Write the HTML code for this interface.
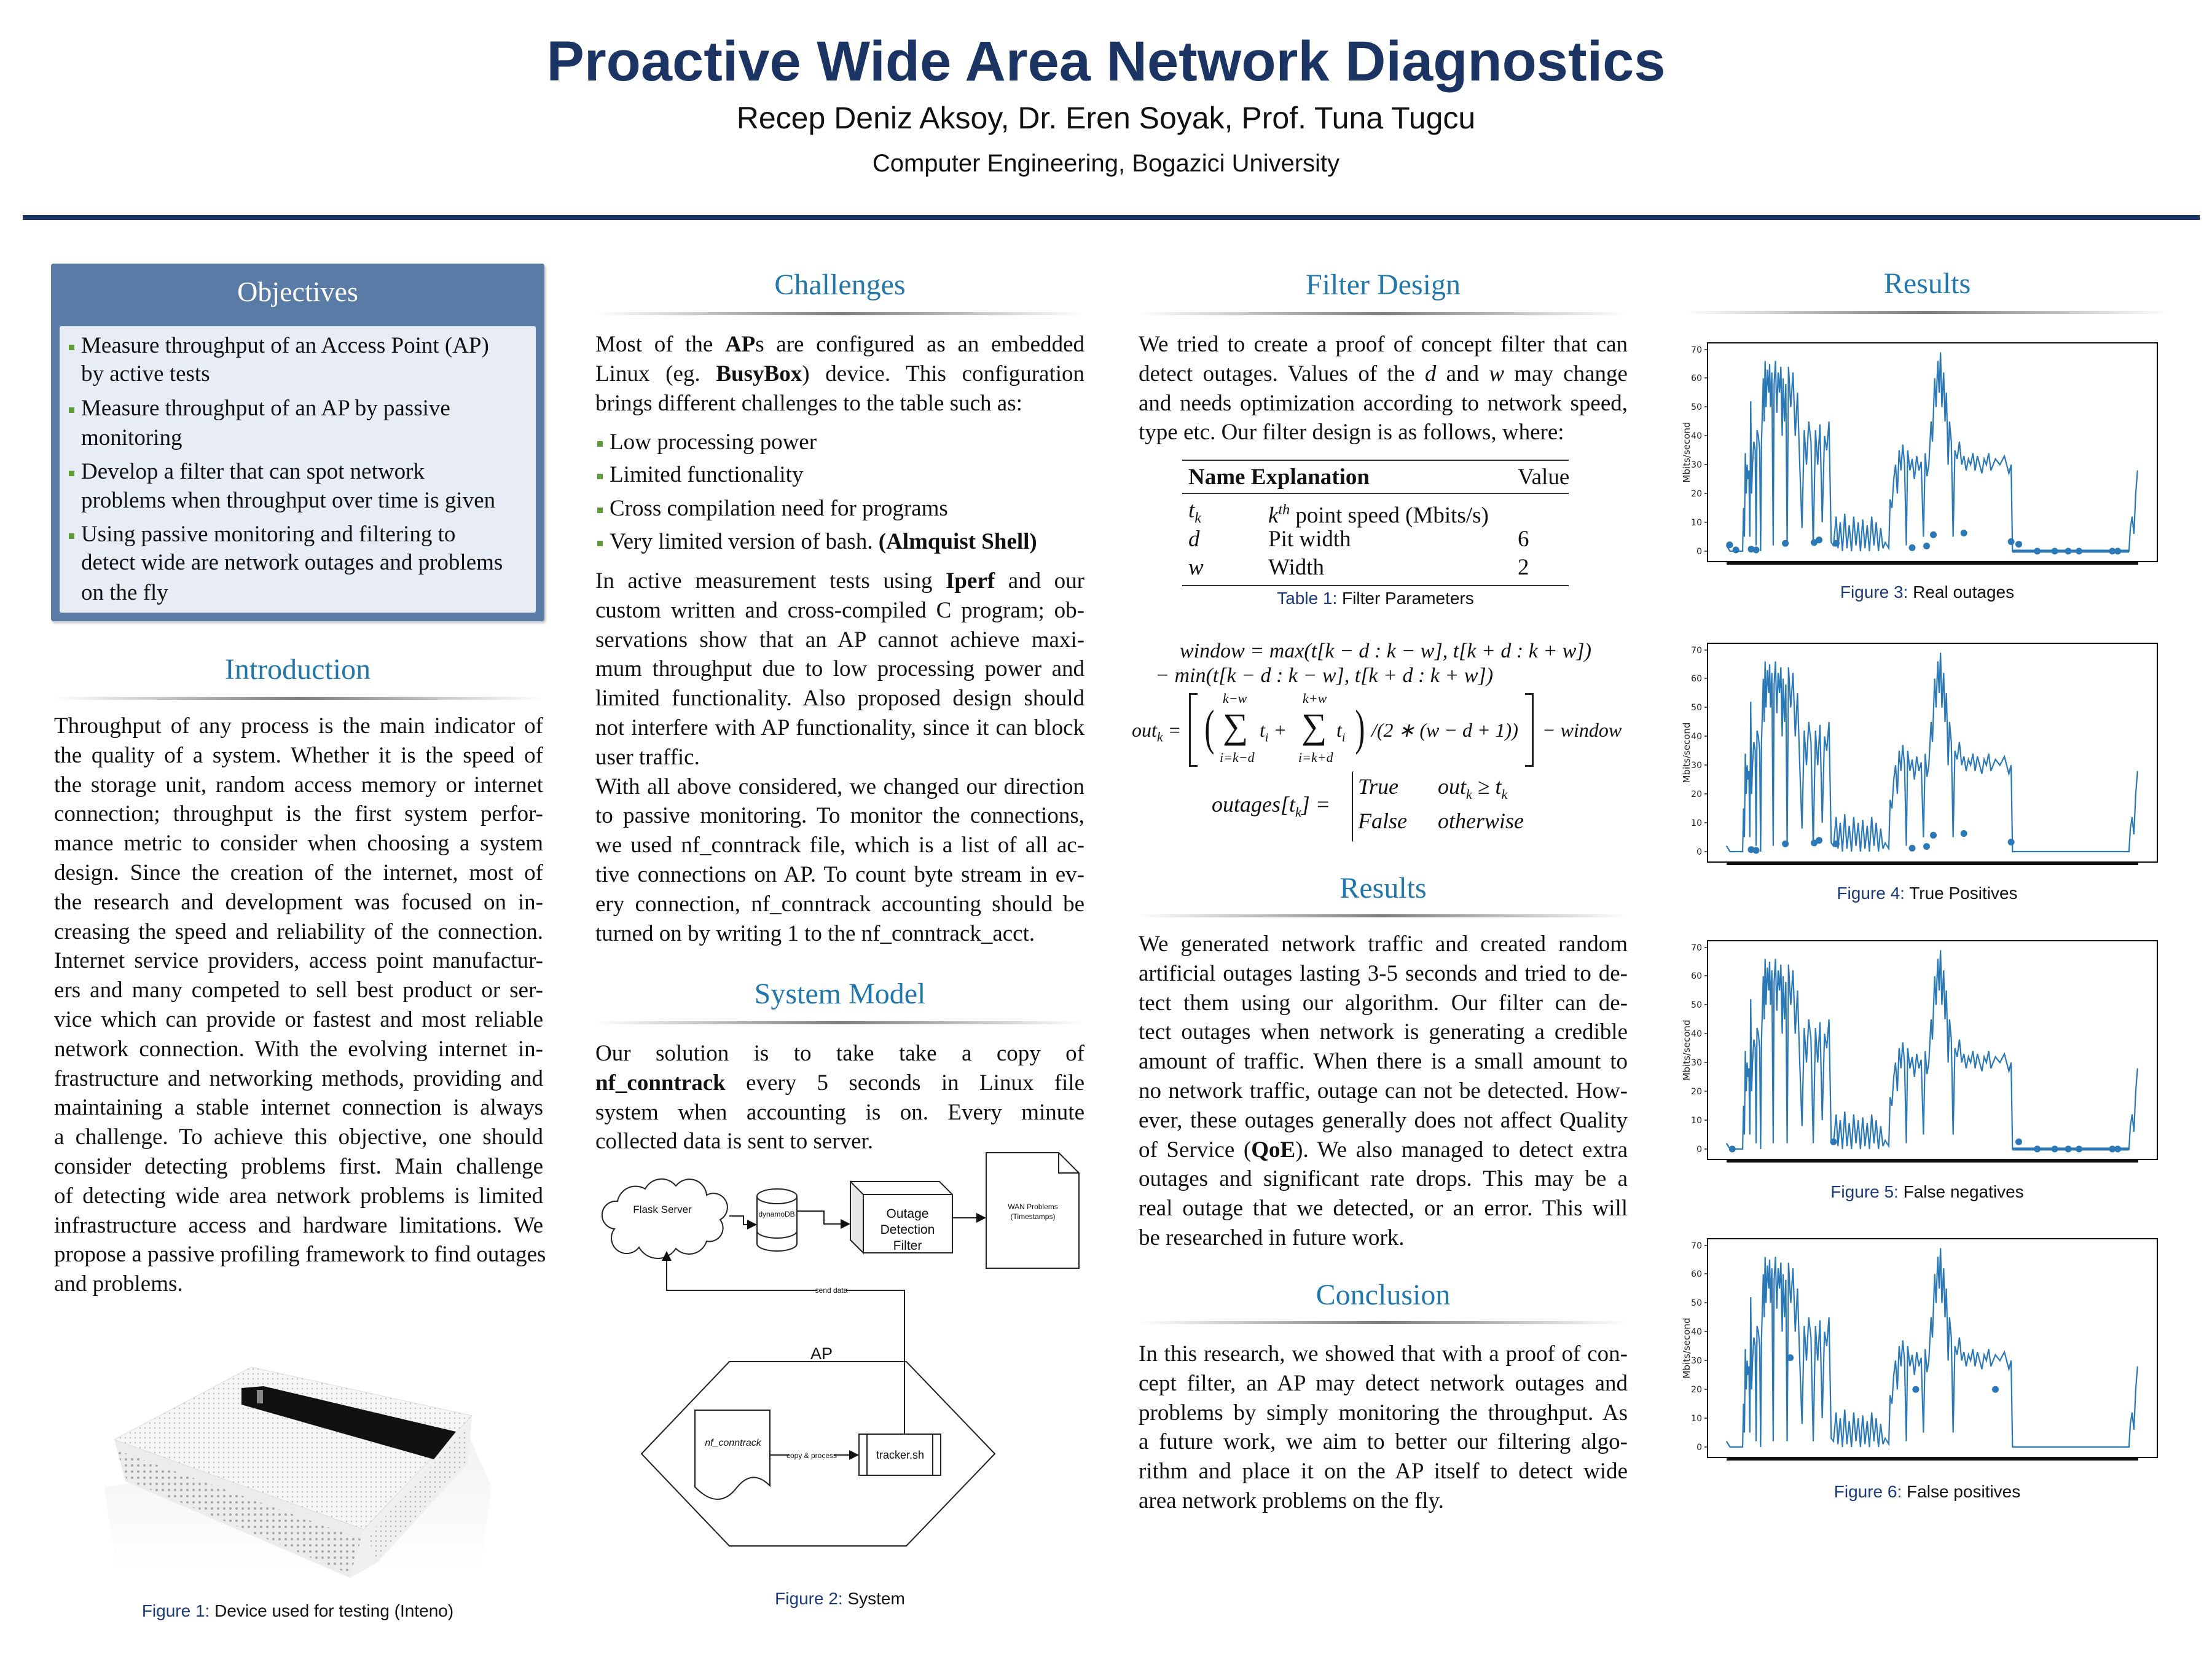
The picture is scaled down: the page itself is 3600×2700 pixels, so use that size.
<!DOCTYPE html>
<html><head><meta charset="utf-8">
<style>
*{margin:0;padding:0;box-sizing:border-box}
body{width:3600px;height:2700px;background:#fff;position:relative;overflow:hidden;font-family:"Liberation Serif",serif;color:#111}
.a{position:absolute}
.t{position:absolute;font-size:37px;line-height:47.8px;}
.t div{white-space:nowrap;text-align:justify;text-align-last:justify;height:47.8px}
.t div.l{text-align-last:left}
.h{position:absolute;font-family:"Liberation Serif",serif;font-size:48px;color:#2277ad;text-align:center}
.rule{position:absolute;height:5px;background:linear-gradient(to right,rgba(120,120,120,0),rgba(110,110,110,.9) 50%,rgba(120,120,120,0))}
.cap{position:absolute;font-family:"Liberation Sans",sans-serif;font-size:28px;text-align:center;color:#111}
.cap b{font-weight:normal;color:#1b3a78}
.bl{position:absolute;font-size:37px;line-height:47.8px}
.sq{display:inline-block;width:9px;height:9px;background:#5e9a37;position:absolute;left:-20px;top:22px}
.it{font-style:italic}
</style></head><body>

<div class="a" style="left:0;top:48px;width:3600px;text-align:center;font-family:'Liberation Sans',sans-serif;font-weight:bold;font-size:92px;color:#1b3463">Proactive Wide Area Network Diagnostics</div>
<div class="a" style="left:0;top:163px;width:3600px;text-align:center;font-family:'Liberation Sans',sans-serif;font-size:50px;color:#111">Recep Deniz Aksoy, Dr. Eren Soyak, Prof. Tuna Tugcu</div>
<div class="a" style="left:0;top:244px;width:3600px;text-align:center;font-family:'Liberation Sans',sans-serif;font-size:40px;color:#111">Computer Engineering, Bogazici University</div>
<div class="a" style="left:37px;top:350px;width:3543px;height:8px;background:#1b3463"></div>

<!-- Objectives -->
<div class="a" style="left:83px;top:429px;width:803px;height:582px;background:#5b7ba7;border-radius:4px;box-shadow:2px 3px 4px rgba(0,0,0,.25)"></div>
<div class="a" style="left:83px;top:448px;width:803px;text-align:center;color:#fff;font-size:46px">Objectives</div>
<div class="a" style="left:97px;top:531px;width:775px;height:466px;background:#e8ecf4;border-radius:3px"></div>
<div class="bl" style="left:132px;top:539px"><span class="sq"></span>Measure throughput of an Access Point (AP)</div>
<div class="bl" style="left:132px;top:585px">by active tests</div>
<div class="bl" style="left:132px;top:641px"><span class="sq"></span>Measure throughput of an AP by passive</div>
<div class="bl" style="left:132px;top:689px">monitoring</div>
<div class="bl" style="left:132px;top:744px"><span class="sq"></span>Develop a filter that can spot network</div>
<div class="bl" style="left:132px;top:791px">problems when throughput over time is given</div>
<div class="bl" style="left:132px;top:846px"><span class="sq"></span>Using passive monitoring and filtering to</div>
<div class="bl" style="left:132px;top:892px">detect wide are network outages and problems</div>
<div class="bl" style="left:132px;top:941px">on the fly</div>

<!-- Introduction -->
<div class="h" style="left:83px;top:1062px;width:803px">Introduction</div>
<div class="rule" style="left:88px;top:1134px;width:796px"></div>
<div class="t" style="left:88px;top:1158px;width:796px">
<div>Throughput of any process is the main indicator of</div>
<div>the quality of a system. Whether it is the speed of</div>
<div>the storage unit, random access memory or internet</div>
<div>connection; throughput is the first system perfor-</div>
<div>mance metric to consider when choosing a system</div>
<div>design. Since the creation of the internet, most of</div>
<div>the research and development was focused on in-</div>
<div>creasing the speed and reliability of the connection.</div>
<div>Internet service providers, access point manufactur-</div>
<div>ers and many competed to sell best product or ser-</div>
<div>vice which can provide or fastest and most reliable</div>
<div>network connection. With the evolving internet in-</div>
<div>frastructure and networking methods, providing and</div>
<div>maintaining a stable internet connection is always</div>
<div>a challenge. To achieve this objective, one should</div>
<div>consider detecting problems first. Main challenge</div>
<div>of detecting wide area network problems is limited</div>
<div>infrastructure access and hardware limitations. We</div>
<div>propose a passive profiling framework to find outages</div>
<div class="l">and problems.</div>
</div>
<div class="cap" style="left:83px;top:2606px;width:803px"><b>Figure 1:</b> Device used for testing (Inteno)</div>

<!-- Challenges -->
<div class="h" style="left:969px;top:436px;width:796px">Challenges</div>
<div class="rule" style="left:969px;top:508px;width:796px"></div>
<div class="t" style="left:969px;top:537px;width:796px">
<div>Most of the <b>AP</b>s are configured as an embedded</div>
<div>Linux (eg. <b>BusyBox</b>) device. This configuration</div>
<div class="l">brings different challenges to the table such as:</div>
</div>
<div class="bl" style="left:992px;top:696px"><span class="sq"></span>Low processing power</div>
<div class="bl" style="left:992px;top:749px"><span class="sq"></span>Limited functionality</div>
<div class="bl" style="left:992px;top:804px"><span class="sq"></span>Cross compilation need for programs</div>
<div class="bl" style="left:992px;top:858px;width:773px;"><span class="sq"></span>Very limited version of bash. <b>(Almquist Shell)</b></div>
<div class="t" style="left:969px;top:922px;width:796px">
<div>In active measurement tests using <b>Iperf</b> and our</div>
<div>custom written and cross-compiled C program; ob-</div>
<div>servations show that an AP cannot achieve maxi-</div>
<div>mum throughput due to low processing power and</div>
<div>limited functionality. Also proposed design should</div>
<div>not interfere with AP functionality, since it can block</div>
<div class="l">user traffic.</div>
<div>With all above considered, we changed our direction</div>
<div>to passive monitoring. To monitor the connections,</div>
<div>we used nf_conntrack file, which is a list of all ac-</div>
<div>tive connections on AP. To count byte stream in ev-</div>
<div>ery connection, nf_conntrack accounting should be</div>
<div class="l">turned on by writing 1 to the nf_conntrack_acct.</div>
</div>

<div class="h" style="left:969px;top:1590px;width:796px">System Model</div>
<div class="rule" style="left:969px;top:1662px;width:796px"></div>
<div class="t" style="left:969px;top:1691px;width:796px">
<div>Our solution is to take take a copy of</div>
<div><b>nf_conntrack</b> every 5 seconds in Linux file</div>
<div>system when accounting is on. Every minute</div>
<div class="l">collected data is sent to server.</div>
</div>
<div class="cap" style="left:969px;top:2586px;width:796px"><b>Figure 2:</b> System</div>

<!-- Filter design -->
<div class="h" style="left:1853px;top:436px;width:796px">Filter Design</div>
<div class="rule" style="left:1853px;top:508px;width:796px"></div>
<div class="t" style="left:1853px;top:537px;width:796px">
<div>We tried to create a proof of concept filter that can</div>
<div>detect outages. Values of the <i>d</i> and <i>w</i> may change</div>
<div>and needs optimization according to network speed,</div>
<div class="l">type etc. Our filter design is as follows, where:</div>
</div>
<div class="a" style="left:1924px;top:748px;width:629px;height:2px;background:#333"></div>
<div class="a" style="left:1924px;top:802px;width:629px;height:2px;background:#333"></div>
<div class="a" style="left:1924px;top:952px;width:629px;height:2px;background:#333"></div>
<div class="bl" style="left:1934px;top:753px"><b>Name Explanation</b></div>
<div class="bl" style="left:2470px;top:753px">Value</div>
<div class="bl it" style="left:1934px;top:807px">t<sub style="font-size:24px">k</sub></div>
<div class="bl" style="left:2064px;top:807px"><i>k</i><sup style="font-size:24px"><i>th</i></sup> point speed (Mbits/s)</div>
<div class="bl it" style="left:1934px;top:854px">d</div>
<div class="bl" style="left:2064px;top:854px">Pit width</div>
<div class="bl" style="left:2470px;top:854px">6</div>
<div class="bl it" style="left:1934px;top:900px">w</div>
<div class="bl" style="left:2064px;top:900px">Width</div>
<div class="bl" style="left:2470px;top:900px">2</div>
<div class="cap" style="left:1924px;top:958px;width:629px"><b>Table 1:</b> Filter Parameters</div>

<div class="bl it" style="left:1920px;top:1036px;font-size:34px">window = max(t[k − d : k − w], t[k + d : k + w])</div>
<div class="bl it" style="left:1880px;top:1076px;font-size:34px">− min(t[k − d : k − w], t[k + d : k + w])</div>
<div class="bl it" style="left:1842px;top:1165px;font-size:32px">out<sub style="font-size:22px">k</sub> =</div>
<div class="a" style="left:1935px;top:1128px;width:14px;height:120px;border:3px solid #222;border-right:none"></div>
<div class="a" style="left:1955px;top:1135px;font-size:80px;line-height:100px;transform:scaleX(.6)">(</div>
<div class="a" style="left:1990px;top:1142px;font-size:58px;line-height:80px">∑</div>
<div class="a it" style="left:1990px;top:1124px;font-size:22px">k−w</div>
<div class="a it" style="left:1985px;top:1220px;font-size:22px">i=k−d</div>
<div class="bl it" style="left:2050px;top:1165px;font-size:32px">t<sub style="font-size:20px">i</sub> +</div>
<div class="a" style="left:2118px;top:1142px;font-size:58px;line-height:80px">∑</div>
<div class="a it" style="left:2120px;top:1124px;font-size:22px">k+w</div>
<div class="a it" style="left:2113px;top:1220px;font-size:22px">i=k+d</div>
<div class="bl it" style="left:2175px;top:1165px;font-size:32px">t<sub style="font-size:20px">i</sub></div>
<div class="a" style="left:2200px;top:1135px;font-size:80px;line-height:100px;transform:scaleX(.6)">)</div>
<div class="bl it" style="left:2232px;top:1165px;font-size:32px">/(2 ∗ (w − d + 1))</div>
<div class="a" style="left:2482px;top:1128px;width:14px;height:120px;border:3px solid #222;border-left:none"></div>
<div class="bl it" style="left:2510px;top:1165px;font-size:32px">− window</div>
<div class="bl it" style="left:1972px;top:1286px;font-size:36px">outages[t<sub style="font-size:22px">k</sub>] =</div>
<div class="a" style="left:2200px;top:1255px;width:3px;height:115px;border-left:2px solid #222;border-radius:8px 0 0 8px"></div>
<div class="bl it" style="left:2210px;top:1257px;font-size:36px">True</div>
<div class="bl it" style="left:2340px;top:1257px;font-size:36px">out<sub style="font-size:22px">k</sub> ≥ t<sub style="font-size:22px">k</sub></div>
<div class="bl it" style="left:2210px;top:1313px;font-size:36px">False</div>
<div class="bl it" style="left:2340px;top:1313px;font-size:36px">otherwise</div>

<div class="h" style="left:1853px;top:1418px;width:796px">Results</div>
<div class="rule" style="left:1853px;top:1488px;width:796px"></div>
<div class="t" style="left:1853px;top:1513px;width:796px">
<div>We generated network traffic and created random</div>
<div>artificial outages lasting 3-5 seconds and tried to de-</div>
<div>tect them using our algorithm. Our filter can de-</div>
<div>tect outages when network is generating a credible</div>
<div>amount of traffic. When there is a small amount to</div>
<div>no network traffic, outage can not be detected. How-</div>
<div>ever, these outages generally does not affect Quality</div>
<div>of Service (<b>QoE</b>). We also managed to detect extra</div>
<div>outages and significant rate drops. This may be a</div>
<div>real outage that we detected, or an error. This will</div>
<div class="l">be researched in future work.</div>
</div>
<div class="h" style="left:1853px;top:2080px;width:796px">Conclusion</div>
<div class="rule" style="left:1853px;top:2150px;width:796px"></div>
<div class="t" style="left:1853px;top:2180px;width:796px">
<div>In this research, we showed that with a proof of con-</div>
<div>cept filter, an AP may detect network outages and</div>
<div>problems by simply monitoring the throughput. As</div>
<div>a future work, we aim to better our filtering algo-</div>
<div>rithm and place it on the AP itself to detect wide</div>
<div class="l">area network problems on the fly.</div>
</div>

<!-- Results col4 -->
<div class="h" style="left:2742px;top:434px;width:789px">Results</div>
<div class="rule" style="left:2742px;top:506px;width:789px"></div>
<div class="cap" style="left:2742px;top:948px;width:789px"><b>Figure 3:</b> Real outages</div>
<div class="cap" style="left:2742px;top:1438px;width:789px"><b>Figure 4:</b> True Positives</div>
<div class="cap" style="left:2742px;top:1924px;width:789px"><b>Figure 5:</b> False negatives</div>
<div class="cap" style="left:2742px;top:2412px;width:789px"><b>Figure 6:</b> False positives</div>

<svg class="a" style="left:0;top:0" width="3600" height="2700" viewBox="0 0 3600 2700">
<defs>
<marker id="ar" markerWidth="8" markerHeight="8" refX="7" refY="4" orient="auto"><path d="M0,0 L8,4 L0,8 Z" fill="#111"/></marker>
<pattern id="dots" width="8" height="8" patternUnits="userSpaceOnUse"><circle cx="4" cy="4" r="1.4" fill="#a8a8a8"/></pattern>
<pattern id="dots2" width="10" height="10" patternUnits="userSpaceOnUse"><circle cx="5" cy="5" r="2" fill="#777"/></pattern>
<linearGradient id="shad" x1="0" y1="0" x2="0" y2="1"><stop offset="0" stop-color="#ececec"/><stop offset="1" stop-color="#fff"/></linearGradient>
<g id="axes">
<rect x="49" y="0" width="732" height="356" fill="none" stroke="#111" stroke-width="2"/>
<rect x="80" y="355" width="670" height="6" fill="#111"/>
<g font-family="DejaVu Sans,sans-serif" font-size="14" text-anchor="end" fill="#222">
<text x="40" y="344">0</text><text x="40" y="297">10</text><text x="40" y="250">20</text><text x="40" y="203">30</text><text x="40" y="156">40</text><text x="40" y="109">50</text><text x="40" y="62">60</text><text x="40" y="16">70</text>
</g>
<g stroke="#222" stroke-width="1.5"><line x1="44" x2="49" y1="339" y2="339"/><line x1="44" x2="49" y1="292" y2="292"/><line x1="44" x2="49" y1="245" y2="245"/><line x1="44" x2="49" y1="198" y2="198"/><line x1="44" x2="49" y1="151" y2="151"/><line x1="44" x2="49" y1="104" y2="104"/><line x1="44" x2="49" y1="57" y2="57"/><line x1="44" x2="49" y1="11" y2="11"/></g>
<text x="0" y="0" transform="translate(20,178) rotate(-90)" font-family="DejaVu Sans,sans-serif" font-size="15" text-anchor="middle" fill="#222">Mbits/second</text>
<g transform="translate(49,339) scale(0.732,-4.69)">
<polyline fill="none" stroke="#2a78b5" stroke-width="2.2" vector-effect="non-scaling-stroke" points="42,2 50,0 78,0 80,15 82,5 84,34 86,20 88,30 90,25 92,28 94,5 96,52 98,20 100,30 103,38 106,35 108,2 110,42 113,40 116,35 118,0 120,38 124,60 126,45 128,66 130,50 133,63 136,55 138,65 140,50 143,62 146,2 148,58 151,66 154,48 157,62 160,55 163,64 166,40 168,60 171,45 174,58 177,2 180,64 185,50 190,62 195,40 200,55 205,30 210,8 215,42 220,30 225,45 230,38 235,2 240,42 245,30 250,44 255,10 260,40 265,35 270,45 275,3 280,2 286,12 290,1 295,10 300,0 305,13 310,1 315,9 320,0 325,12 330,2 335,10 340,0 345,11 350,1 355,9 360,0 365,12 370,2 375,10 380,0 385,8 390,1 395,3 403,1 406,18 410,15 414,25 418,30 422,20 426,35 430,28 434,37 438,30 442,2 445,35 450,28 455,32 460,25 465,33 470,28 475,31 480,5 484,34 488,26 492,30 497,45 500,38 505,60 508,50 512,66 515,55 518,69 521,50 525,62 528,45 531,55 535,30 538,45 542,38 546,5 550,35 555,32 560,38 565,30 570,33 575,28 580,32 585,30 590,34 595,28 600,33 605,30 610,27 615,32 620,30 625,34 630,28 640,32 650,30 660,33 670,27 675,30 678,0 700,0 937,0 940,8 944,12 948,6 952,20 956,28"/>
</g>
</g>
</defs>

<!-- charts -->
<g transform="translate(2730,558)"><use href="#axes"/>
<line x1="545" y1="339" x2="735" y2="339" stroke="#2a78b5" stroke-width="5"/>
<g fill="#2a78b5"><circle cx="84.9" cy="328.7" r="5.5"/><circle cx="95.1" cy="337" r="5.5"/><circle cx="120" cy="335.7" r="5.5"/><circle cx="128" cy="337" r="5.5"/><circle cx="175.6" cy="326.3" r="5.5"/><circle cx="222.5" cy="324.9" r="5.5"/><circle cx="230.5" cy="320.7" r="5.5"/><circle cx="258.4" cy="326.3" r="5.5"/><circle cx="382" cy="333.4" r="5.5"/><circle cx="405.5" cy="330.6" r="5.5"/><circle cx="416.5" cy="312.3" r="5.5"/><circle cx="466.2" cy="309.5" r="5.5"/><circle cx="543.1" cy="323.5" r="5.5"/><circle cx="555.5" cy="327.7" r="5.5"/><circle cx="585.6" cy="339" r="5.5"/><circle cx="614.1" cy="339" r="5.5"/><circle cx="636" cy="339" r="5.5"/><circle cx="653.6" cy="339" r="5.5"/><circle cx="707.8" cy="339" r="5.5"/><circle cx="716.6" cy="339" r="5.5"/></g></g>

<g transform="translate(2730,1047)"><use href="#axes"/>
<g fill="#2a78b5"><circle cx="120" cy="335.7" r="5.5"/><circle cx="128" cy="337" r="5.5"/><circle cx="175.6" cy="326.3" r="5.5"/><circle cx="222.5" cy="324.9" r="5.5"/><circle cx="230.5" cy="320.7" r="5.5"/><circle cx="258.4" cy="326.3" r="5.5"/><circle cx="382" cy="333.4" r="5.5"/><circle cx="405.5" cy="330.6" r="5.5"/><circle cx="416.5" cy="312.3" r="5.5"/><circle cx="466.2" cy="309.5" r="5.5"/><circle cx="543.1" cy="323.5" r="5.5"/></g></g>

<g transform="translate(2730,1531)"><use href="#axes"/>
<line x1="545" y1="339" x2="735" y2="339" stroke="#2a78b5" stroke-width="5"/>
<g fill="#2a78b5"><circle cx="89.3" cy="339" r="5.5"/><circle cx="254" cy="327.3" r="5.5"/><circle cx="555.5" cy="327.3" r="5.5"/><circle cx="585.6" cy="339" r="5.5"/><circle cx="614.1" cy="339" r="5.5"/><circle cx="636" cy="339" r="5.5"/><circle cx="653.6" cy="339" r="5.5"/><circle cx="707.8" cy="339" r="5.5"/><circle cx="716.6" cy="339" r="5.5"/></g></g>

<g transform="translate(2730,2016)"><use href="#axes"/>
<g fill="#2a78b5"><circle cx="183.7" cy="193.6" r="5.5"/><circle cx="387.9" cy="245.2" r="5.5"/><circle cx="517.5" cy="245.2" r="5.5"/></g></g>

<!-- system diagram -->
<g fill="none" stroke="#222" stroke-width="2" font-family="Liberation Sans,sans-serif">
<path d="M1000,2000 A22,22 0 0 1 1005,1955 A30,30 0 0 1 1050,1935 A30,30 0 0 1 1100,1930 A28,28 0 0 1 1150,1945 A22,22 0 0 1 1172,1985 A22,22 0 0 1 1150,2020 A30,30 0 0 1 1100,2032 A35,35 0 0 1 1040,2030 A25,25 0 0 1 1000,2000 Z" fill="#fff"/>
<polyline points="1187,1979 1210,1979 1210,1993 1230,1993" marker-end="url(#ar)"/>
<path d="M1232,1947 L1232,2024 A32.5,12 0 0 0 1297,2024 L1297,1947" fill="#fff"/>
<ellipse cx="1264.5" cy="1947" rx="32.5" ry="12" fill="#fff"/>
<path d="M1232,2003 A32.5,12 0 0 0 1297,2003"/>
<polyline points="1297,1971 1341,1971 1341,1992 1382,1992" marker-end="url(#ar)"/>
<polygon points="1384,1923 1529,1923 1550,1944 1550,2039 1405,2039 1384,2018" fill="#fff"/>
<polygon points="1384,1923 1405,1944 1405,2039 1384,2018" fill="#e6e6e6"/>
<line x1="1405" y1="1944" x2="1550" y2="1944"/>
<line x1="1550" y1="1982" x2="1603" y2="1982" marker-end="url(#ar)"/>
<path d="M1605,1876 L1723,1876 L1756,1909 L1756,2064 L1605,2064 Z M1723,1876 L1723,1909 L1756,1909" fill="#fff"/>
<polyline points="1472,2334 1472,2100 1085,2100 1085,2038" marker-end="url(#ar)"/>
<polygon points="1044,2366 1187,2216 1475,2216 1619,2366 1475,2516 1187,2516"/>
<path d="M1131,2295 L1253,2295 L1253,2418 Q1225,2390 1200,2420 Q1170,2460 1131,2420 Z" fill="#fff"/>
<line x1="1253" y1="2368" x2="1396" y2="2368" marker-end="url(#ar)"/>
<rect x="1398" y="2334" width="133" height="67" fill="#fff"/>
<line x1="1411" y1="2334" x2="1411" y2="2401"/><line x1="1518" y1="2334" x2="1518" y2="2401"/>
</g>
<g font-family="Liberation Sans,sans-serif" fill="#111" text-anchor="middle">
<text x="1078" y="1974" font-size="17">Flask Server</text>
<text x="1264" y="1980" font-size="12">dynamoDB</text>
<text x="1477" y="1982" font-size="21">Outage</text>
<text x="1477" y="2008" font-size="21">Detection</text>
<text x="1477" y="2034" font-size="21">Filter</text>
<text x="1681" y="1968" font-size="12">WAN Problems</text>
<text x="1681" y="1984" font-size="12">(Timestamps)</text>
<rect x="1330" y="2092" width="48" height="14" fill="#fff"/>
<text x="1353" y="2104" font-size="12">send data</text>
<text x="1337" y="2212" font-size="27">AP</text>
<text x="1193" y="2353" font-size="16" font-style="italic">nf_conntrack</text>
<rect x="1285" y="2361" width="72" height="14" fill="#fff"/>
<text x="1321" y="2373" font-size="12">copy &amp; process</text>
<text x="1465" y="2374" font-size="18">tracker.sh</text>
</g>

<!-- router -->
<path d="M170,2420 L760,2330 L800,2420 L780,2560 L190,2560 Z" fill="url(#shad)" opacity=".7"/>
<polygon points="186,2343 204,2411 570,2568 592,2489" fill="#ececec"/>
<polygon points="190,2360 206,2408 570,2562 588,2505" fill="url(#dots2)" opacity=".6"/>
<polygon points="592,2489 768,2304 762,2382 614,2543 570,2568" fill="#f0f0f0"/>
<polygon points="598,2500 762,2320 758,2380 612,2540" fill="url(#dots)" opacity=".7"/>
<polygon points="186,2343 409,2225 768,2304 592,2489" fill="#f6f6f6" stroke="#ddd" stroke-width="1"/>
<polygon points="186,2343 409,2225 768,2304 592,2489" fill="url(#dots)" opacity=".6"/>
<polygon points="393,2259 429,2256 742,2330 706,2375 393,2286" fill="#111"/>
<rect x="418" y="2262" width="10" height="22" fill="#888"/>
</svg>
</body></html>
